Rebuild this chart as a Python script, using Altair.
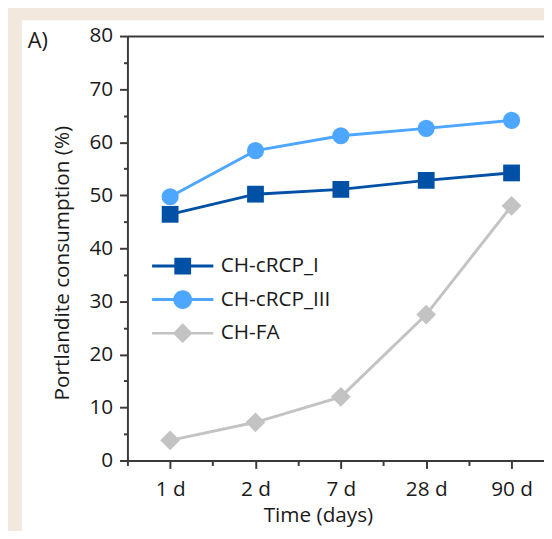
import json
import altair as alt
import pandas as pd

# ---- data ----
times = ["1 d", "2 d", "7 d", "28 d", "90 d"]
series = ["CH-cRCP_I", "CH-cRCP_III", "CH-FA"]
cRCP_I = [46.4, 50.2, 51.1, 52.8, 54.2]
cRCP_III = [49.7, 58.4, 61.2, 62.6, 64.1]
FA = [3.8, 7.2, 12.0, 27.5, 48.0]
colors = ["#0051A5", "#4DA6FF", "#C3C3C3"]
shapes = ["square", "circle", "diamond"]
sizes = [289, 300, 400]
y_major = [0, 10, 20, 30, 40, 50, 60, 70, 80]
y_minor = [5, 15, 25, 35, 45, 55, 65, 75]
x_major = [0, 1, 2, 3, 4]
x_minor = [-0.5, 0.5, 1.5, 2.5, 3.5]

# legend glyphs: line + marker
leg_paths = [
    "M-3.65,-0.18H-1V-1H1V-0.18H3.65V0.18H1V1H-1V0.18H-3.65Z",
    "M-3.65,-0.18H-1.1V0.18H-3.65Z M1.1,-0.18H3.65V0.18H1.1Z "
    "M-1.12,0A1.12,1.12,0,0,1,1.12,0A1.12,1.12,0,0,1,-1.12,0Z",
    "M-3.65,-0.15H-1V0.15H-3.65Z M1,-0.15H3.65V0.15H1Z "
    "M-1.18,0L0,-1.18L1.18,0L0,1.18Z",
]

rows = []
for s, vals in zip(series, [cRCP_I, cRCP_III, FA]):
    for i, (t, v) in enumerate(zip(times, vals)):
        rows.append({"series": s, "time": t, "idx": i, "value": v})
df = pd.DataFrame(rows)

FONT = "Open Sans"
TXT = "#1a1a1a"
AX = "#3a3a3a"

xscale = alt.Scale(domain=[-0.5, 4.38], nice=False, zero=False)
yscale = alt.Scale(domain=[0, 80], nice=False)
cscale = alt.Scale(domain=series, range=colors)

label_expr = json.dumps(times) + "[datum.value]"

base = alt.Chart(df)

bg = alt.Chart(pd.DataFrame({"k": [0]})).mark_rect(color="white").encode(
    x=alt.value(-107), x2=alt.value(440), y=alt.value(-16), y2=alt.value(520)
)

lines = base.mark_line(strokeWidth=3).encode(
    x=alt.X("idx:Q", scale=xscale, axis=alt.Axis(
        orient="bottom", values=x_major, labelExpr=label_expr, grid=False,
        tickSize=8, tickWidth=2, tickColor=AX, domainColor=AX, domainWidth=2,
        labelPadding=10, labelFont=FONT, labelFontSize=21, labelColor=TXT,
        labelAngle=0, title="Time (days)", titleFont=FONT, titleFontSize=21,
        titleFontWeight="normal", titleColor=TXT, titleX=193, titleY=62,
        titleBaseline="alphabetic", zindex=1)),
    y=alt.Y("value:Q", scale=yscale, axis=alt.Axis(
        orient="left", values=y_major, grid=False, tickSize=8, tickWidth=2,
        tickColor=AX, domainColor=AX, domainWidth=2, labelPadding=7,
        labelFont=FONT, labelFontSize=21, labelColor=TXT,
        title="Portlandite consumption (%)", titleFont=FONT, titleFontSize=21,
        titleFontWeight="normal", titleColor=TXT, titleX=-60, titleY=229.5,
        titleAngle=-90, titleBaseline="alphabetic", zindex=1)),
    color=alt.Color("series:N", scale=cscale, legend=None),
    detail="series:N",
    order="idx:Q",
)

points = base.mark_point(filled=True, opacity=1, strokeWidth=0).encode(
    x=alt.X("idx:Q", scale=xscale, axis=alt.Axis(
        orient="bottom", values=x_minor, labels=False, grid=False, domain=False,
        tickSize=5, tickWidth=2, tickColor=AX, title=None, zindex=1)),
    y=alt.Y("value:Q", scale=yscale, axis=alt.Axis(
        orient="left", values=y_minor, labels=False, grid=False, domain=False,
        tickSize=4, tickWidth=2, tickColor=AX, title=None, zindex=1)),
    color=alt.Color("series:N", scale=cscale, legend=None),
    shape=alt.Shape("series:N", scale=alt.Scale(domain=series, range=shapes), legend=None),
    size=alt.Size("series:N", scale=alt.Scale(type="ordinal", domain=series, range=sizes), legend=None),
)

leg = dict(
    title=None, orient="none", legendX=45.5, legendY=222.5, padding=0,
    symbolSize=289, symbolStrokeWidth=0, symbolOpacity=1, labelOffset=28,
    rowPadding=12, labelFont=FONT, labelFontSize=21, labelColor=TXT, zindex=2,
)

legend_layer = base.transform_filter("false").mark_point(filled=True, strokeWidth=0).encode(
    x=alt.X("idx:Q", scale=xscale, axis=alt.Axis(
        orient="top", labels=False, ticks=False, grid=False, domainColor=AX,
        domainWidth=2, title=None, zindex=1)),
    y=alt.Y("value:Q", scale=yscale, axis=None),
    color=alt.Color("series:N", scale=cscale, legend=alt.Legend(**leg)),
    shape=alt.Shape("series:N", scale=alt.Scale(domain=series, range=leg_paths),
                    legend=alt.Legend(**leg)),
)

chart = alt.layer(bg, lines, points, legend_layer).resolve_scale(
    color="independent", shape="independent"
).resolve_axis(x="independent", y="independent").properties(
    width=422,
    height=430,
    autosize="none",
    padding={"left": 121, "top": 25, "right": 0, "bottom": 68},
    background="#F2E8DE",
    title=alt.Title("A)", anchor="start", frame="group", orient="top", dx=-101,
                    dy=50, offset=0, baseline="alphabetic", font=FONT,
                    fontSize=22, fontWeight="normal", color=TXT),
).configure_view(stroke=None)

chart.save("out.html", embed_options={"renderer": "svg", "actions": False})
